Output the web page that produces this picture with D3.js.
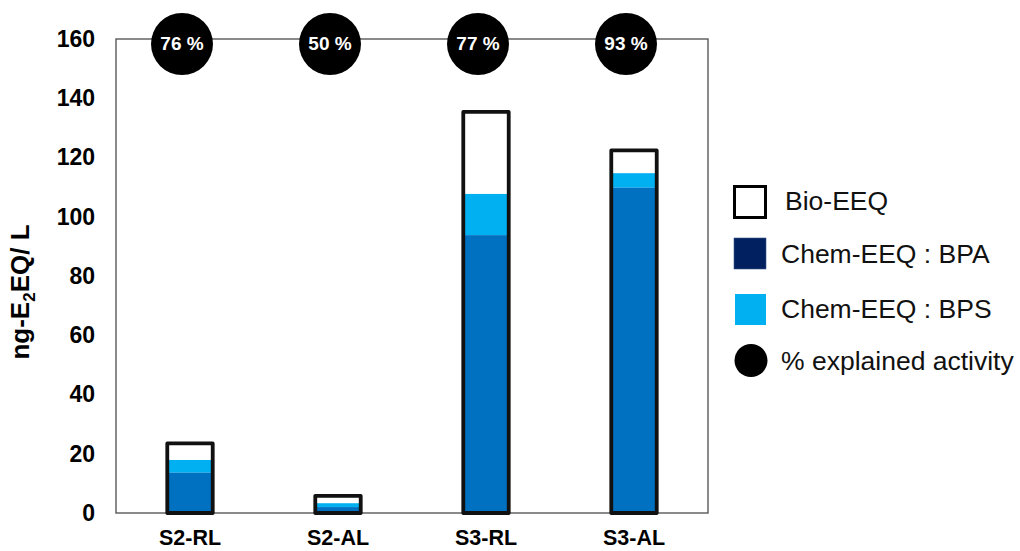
<!DOCTYPE html>
<html>
<head>
<meta charset="utf-8">
<script src="https://cdn.jsdelivr.net/npm/d3@7"></script>
<style>
  html, body { margin: 0; padding: 0; background: #fff; }
  svg { display: block; font-family: "Liberation Sans", Arial, sans-serif; }
</style>
</head>
<body>
<svg id="chart" width="1020" height="551"></svg>
<script>
// ---- data ----
const categories = ["S2-RL", "S2-AL", "S3-RL", "S3-AL"];
const bioEEQ = [23.5, 5.8, 135.4, 122.4];
const chemBPA = [13.6, 2.0, 93.8, 109.8];
const chemBPS = [4.3, 1.3, 13.9, 4.9];
const explained = [76, 50, 77, 93];
const yTicks = [0, 20, 40, 60, 80, 100, 120, 140, 160];
const legendLabels = ["Bio-EEQ", "Chem-EEQ : BPA", "Chem-EEQ : BPS", "% explained activity"];

// ---- layout ----
const svg = d3.select("#chart");
const plot = { left: 116, right: 708, top: 39, bottom: 513 };
const colors = { bpa: "#0070C0", bpaLegend: "#002060", bps: "#00B0F0", frame: "#595959" };

const x = d3.scaleBand().domain(categories).range([plot.left, plot.right])
  .paddingInner(0.693).paddingOuter(0.3465);
const y = d3.scaleLinear().domain([0, 160]).range([plot.bottom, plot.top]);

// frame
svg.append("rect")
  .attr("x", plot.left).attr("y", plot.top)
  .attr("width", plot.right - plot.left).attr("height", plot.bottom - plot.top)
  .attr("fill", "none").attr("stroke", colors.frame).attr("stroke-width", 1.4);

// y axis labels
const yAxis = d3.axisLeft(y).tickValues(yTicks).tickSize(0).tickPadding(21);
const gy = svg.append("g").attr("transform", `translate(${plot.left},0)`).call(yAxis);
gy.select(".domain").remove();
gy.selectAll("text").attr("font-size", 23).attr("font-weight", "bold")
  .attr("fill", "#000").attr("font-family", "Liberation Sans, Arial, sans-serif");

// x axis labels
const xAxis = d3.axisBottom(x).tickSize(0).tickPadding(17);
const gx = svg.append("g").attr("transform", `translate(0,${plot.bottom})`).call(xAxis);
gx.select(".domain").remove();
gx.selectAll("text").attr("font-size", 21.5).attr("font-weight", "bold")
  .attr("fill", "#000").attr("font-family", "Liberation Sans, Arial, sans-serif");

// y axis title
const yt = svg.append("text")
  .attr("transform", "translate(29,292) rotate(-90)")
  .attr("text-anchor", "middle").attr("font-size", 26).attr("font-weight", "bold");
yt.append("tspan").text("ng-E");
yt.append("tspan").text("2").attr("font-size", 17).attr("dy", 6);
yt.append("tspan").text("EQ/ L").attr("dy", -6);

// bars
const rows = categories.map((c, i) => ({ c, bio: bioEEQ[i], bpa: chemBPA[i], bps: chemBPS[i], pct: explained[i] }));
const bw = x.bandwidth();
const bars = svg.append("g").selectAll("g").data(rows).join("g");
bars.append("rect")
  .attr("x", d => x(d.c)).attr("width", bw)
  .attr("y", d => y(d.bio)).attr("height", d => y(0) - y(d.bio))
  .attr("fill", "#fff");
bars.append("rect")
  .attr("x", d => x(d.c)).attr("width", bw)
  .attr("y", d => y(d.bpa + d.bps)).attr("height", d => y(d.bpa) - y(d.bpa + d.bps))
  .attr("fill", colors.bps);
bars.append("rect")
  .attr("x", d => x(d.c)).attr("width", bw)
  .attr("y", d => y(d.bpa)).attr("height", d => y(0) - y(d.bpa))
  .attr("fill", colors.bpa);
bars.append("rect")
  .attr("x", d => x(d.c)).attr("width", bw)
  .attr("y", d => y(d.bio)).attr("height", d => y(0) - y(d.bio))
  .attr("fill", "none").attr("stroke", "#111").attr("stroke-width", 3.8)
  .attr("stroke-linejoin", "round");

// explained-activity circles
const circ = svg.append("g").selectAll("g").data(rows).join("g")
  .attr("transform", d => `translate(${x(d.c) + bw / 2 - 8},44)`);
circ.append("circle").attr("r", 31).attr("fill", "#000");
circ.append("text").text(d => `${d.pct} %`)
  .attr("text-anchor", "middle").attr("dy", 6)
  .attr("fill", "#fff").attr("font-size", 19).attr("font-weight", "bold");

// legend
const leg = svg.append("g");
const legY = [201, 254, 309, 361];
leg.append("rect").attr("x", 734.5).attr("y", 186.5).attr("width", 31).attr("height", 31)
  .attr("fill", "#fff").attr("stroke", "#000").attr("stroke-width", 3);
leg.append("rect").attr("x", 734).attr("y", 238).attr("width", 32).attr("height", 31)
  .attr("fill", colors.bpaLegend).attr("stroke", "#3a5a8a").attr("stroke-width", 0.6);
leg.append("rect").attr("x", 735).attr("y", 294).attr("width", 31).attr("height", 31)
  .attr("fill", colors.bps);
leg.append("circle").attr("cx", 751).attr("cy", 360.5).attr("r", 16.5).attr("fill", "#000");
leg.selectAll("text.l").data(legendLabels).join("text").attr("class", "l")
  .attr("x", (d, i) => i === 0 ? 785 : 781)
  .attr("y", (d, i) => legY[i] + 9)
  .attr("font-size", 26.5).attr("fill", "#111")
  .text(d => d);
</script>
</body>
</html>
